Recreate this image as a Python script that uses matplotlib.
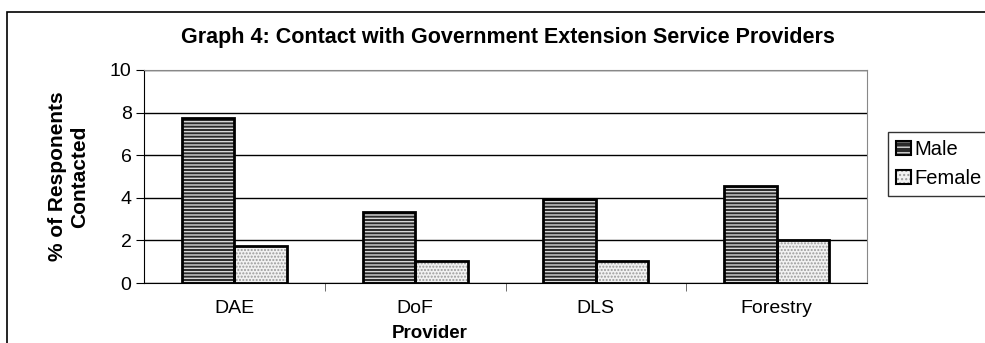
import matplotlib.pyplot as plt
import numpy as np
from matplotlib.patches import Rectangle
from matplotlib.legend_handler import HandlerTuple

providers = ["DAE", "DoF", "DLS", "Forestry"]
male = [7.75, 3.35, 3.95, 4.55]
female = [1.75, 1.05, 1.05, 2.0]
yticks = [0, 2, 4, 6, 8, 10]

plt.rcParams['font.family'] = ['Liberation Sans', 'DejaVu Sans']
plt.rcParams['hatch.linewidth'] = 1.0

fig = plt.figure(figsize=(9.85, 3.43), dpi=100)
ax = fig.add_axes([144/985, 1-283/343, (867-144)/985, (283-70)/343])

x = np.arange(len(providers))
w = 0.29

# fill layers with hatching, then black outlines on top
ax.bar(x - w/2, male, w, color='#2a2a2a', hatch='-----', edgecolor='#d8d8d8', linewidth=0, zorder=3)
ax.bar(x + w/2, female, w, color='#f2f2f2', hatch='.....', edgecolor='#9a9a9a', linewidth=0, zorder=3)
ax.bar(x - w/2, male, w, fill=False, edgecolor='black', linewidth=2, zorder=4)
ax.bar(x + w/2, female, w, fill=False, edgecolor='black', linewidth=2, zorder=4)

ax.set_xlim(-0.5, len(providers) - 0.5)
ax.set_ylim(0, 10)
ax.set_yticks(yticks)
ax.set_yticklabels([str(t) for t in yticks], fontsize=14)
ax.set_xticks(x)
ax.set_xticklabels(providers, fontsize=14)
ax.tick_params(axis='x', length=0, pad=12)
ax.set_xticks(np.arange(0.5, len(providers) - 0.5), minor=True)
ax.tick_params(axis='x', which='minor', length=6, direction='out', color='#555555')
ax.tick_params(axis='y', length=6, direction='out', pad=3)
ax.yaxis.grid(True, color='black', linewidth=1)
ax.set_axisbelow(True)
for s in ['top', 'right']:
    ax.spines[s].set_color('#888888')
ax.spines['left'].set_color('black')
ax.spines['bottom'].set_color('black')

ax.set_ylabel("% of Responents\nContacted", fontsize=15, fontweight='bold', labelpad=15)
fig.text(430/985, 1-333/343, "Provider", fontsize=13.5, fontweight='bold', ha='center', va='center')
fig.text(508/985, 1-38/343, "Graph 4: Contact with Government Extension Service Providers",
         fontsize=15.5, fontweight='bold', ha='center', va='center')

# legend
hm = (Rectangle((0, 0), 1, 1, facecolor='#2a2a2a', hatch='---', edgecolor='#d8d8d8', linewidth=0),
      Rectangle((0, 0), 1, 1, fill=False, edgecolor='black', linewidth=1.5))
hf = (Rectangle((0, 0), 1, 1, facecolor='#f2f2f2', hatch='....', edgecolor='#9a9a9a', linewidth=0),
      Rectangle((0, 0), 1, 1, fill=False, edgecolor='black', linewidth=1.5))
leg = fig.legend([hm, hf], ["Male", "Female"], loc='upper left',
                 bbox_to_anchor=(888/985, 1-132/343), fontsize=14.5, frameon=True,
                 fancybox=False, edgecolor='black', handlelength=0.75, handleheight=0.75,
                 handletextpad=0.15, borderaxespad=0, borderpad=0.4, labelspacing=0.5,
                 handler_map={tuple: HandlerTuple(ndivide=1)})
leg.get_frame().set_linewidth(1)

# outer chart border
fig.patches.append(Rectangle((7/985, -0.1), 1.2, 1-12/343 + 0.1, transform=fig.transFigure,
                             fill=False, edgecolor='black', linewidth=1.2))

fig.savefig("out.png", dpi=100)
